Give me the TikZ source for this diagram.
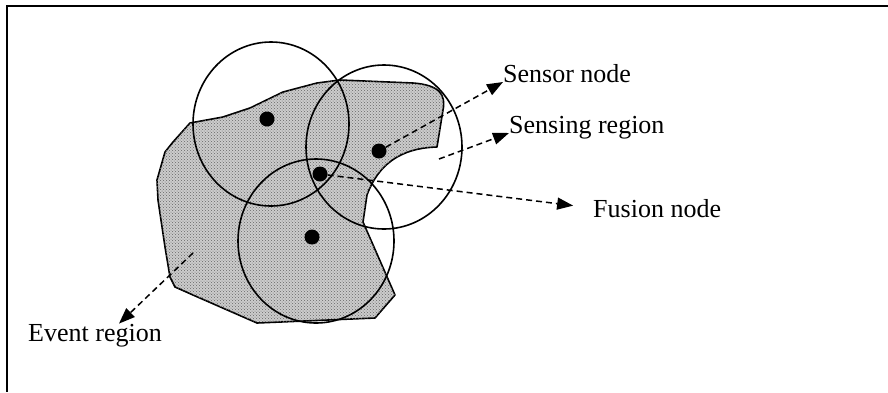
\documentclass[tikz,border=0pt]{standalone}
\usepackage{fontspec}
\setmainfont{Liberation Serif}
\usetikzlibrary{arrows.meta,shapes.geometric,patterns}

\begin{document}
\begin{tikzpicture}[x=1pt,y=-1pt,
  sensor node/.style={circle,fill=black,inner sep=0pt,minimum size=15pt},
  range node/.style={ellipse,draw,inner sep=0pt,line width=1.6pt,minimum width=156pt,minimum height=164pt},
  label node/.style={inner sep=0pt,font=\fontsize{26}{30}\selectfont},
  pointer/.style={dash pattern=on 6pt off 4pt,line width=1.5pt,-{Triangle[length=16pt,width=12pt]}}]

  \useasboundingbox (0,0) rectangle (888,392);
  \draw[line width=2.6pt] (888,6) -| (7,392);

  % event region
  \filldraw[line width=1.6pt,line join=round,fill=gray!40,
    postaction={pattern=crosshatch dots,pattern color=black!60}]
    (190,123) -- (223,117) -- (250,108) -- (283,92) -- (317,83) -- (340,80)
    -- (413,83) .. controls (440,85) and (446,95) .. (443,110) -- (437,147)
    .. controls (400,148) and (378,165) .. (367,195) -- (363,222) -- (395,295)
    -- (375,318) -- (257,323) -- (193,295) -- (175,287) -- (170,277)
    -- (165,247) -- (158,200) -- (157,180) -- (165,152) -- (173,142) -- cycle;

  \node[range node] (r1) at (271,124) {};
  \node[range node] (r2) at (384,147) {};
  \node[range node] (r3) at (316,241) {};

  \node[sensor node] (s1) at (267,119) {};
  \node[sensor node] (s2) at (379,151) {};
  \node[sensor node] (s3) at (320,174) {};
  \node[sensor node] (s4) at (312,237) {};

  \node[label node,anchor=base west] (lsensor) at (503,82) {Sensor node};
  \node[label node,anchor=base west] (lsense) at (509,133) {Sensing region};
  \node[label node,anchor=base west] (lfusion) at (593,217) {Fusion node};
  \node[label node,anchor=base west] (levent) at (28,341) {Event region};

  \coordinate (rin) at (439,159);
  \coordinate (ein) at (193,253);

  \path[pointer]
    (s2) edge (lsensor.base west)
    (rin) edge (lsense.base west)
    (s3) edge[shorten >=20pt] (lfusion.west)
    (ein) edge ([xshift=24pt]levent.north);
\end{tikzpicture}
\end{document}
